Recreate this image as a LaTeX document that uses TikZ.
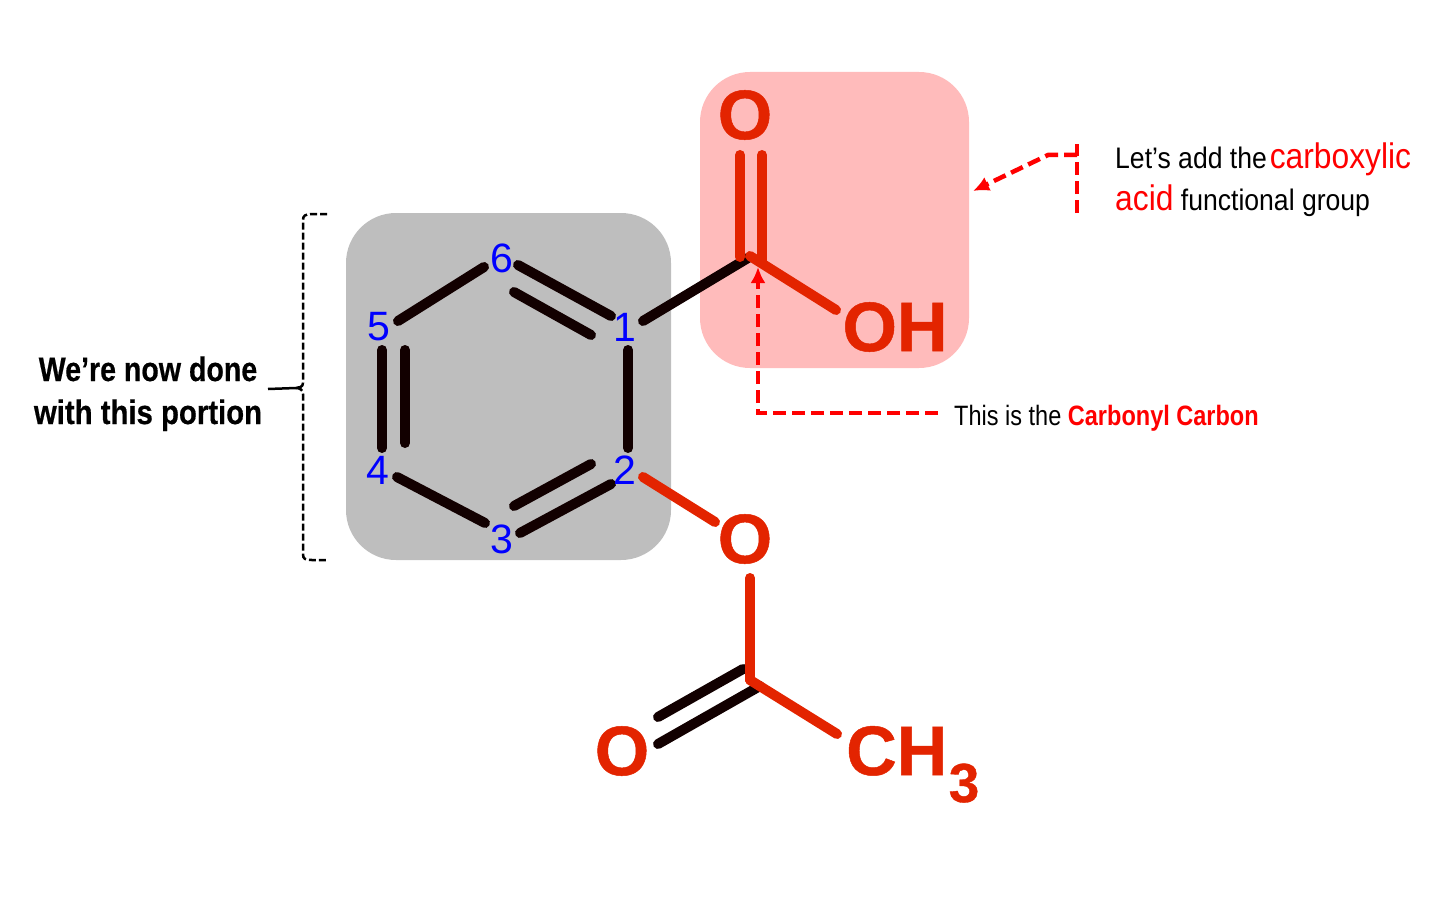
\documentclass[tikz,border=0pt]{standalone}
\usepackage{fontspec}
\setmainfont{Liberation Sans}[BoldFeatures={FakeBold=0.7}]
\newfontfamily\addfont[FakeStretch=0.895]{Liberation Sans}
\newfontfamily\thisfont[FakeStretch=0.84]{Liberation Sans}
\newfontfamily\sidefont[FakeStretch=0.84,BoldFeatures={FakeStretch=0.84,FakeBold=0.5}]{Liberation Sans}
\usetikzlibrary{arrows.meta}
\definecolor{atomred}{HTML}{E32400}
\definecolor{bondblack}{HTML}{120000}
\definecolor{boxgray}{HTML}{BEBEBE}
\definecolor{boxpink}{HTML}{FFBBBB}
\definecolor{notered}{HTML}{FF0000}
\tikzset{
  panel/.style={rounded corners=50pt},
  blackbond/.style={draw=bondblack,line width=10pt,line cap=round},
  redbond/.style={draw=atomred,line width=10pt,line cap=round},
  atomlabel/.style={inner sep=0pt,text=atomred,font=\fontsize{70}{70}\selectfont\bfseries},
  numlabel/.style={inner sep=0pt,text=blue,font=\fontsize{41}{41}\selectfont},
  addlabel/.style={inner sep=0pt,anchor=base west,font=\addfont\fontsize{29.7}{30}\selectfont},
  thislabel/.style={inner sep=0pt,anchor=base west,font=\thisfont\fontsize{28}{28}\selectfont},
  sidelabel/.style={inner sep=0pt,anchor=base,font=\sidefont\bfseries\fontsize{34}{34}\selectfont},
  leader/.style={draw=notered,line width=4.5pt,dash pattern=on 13pt off 6pt},
  leadertip/.style={-{Latex[length=16pt,width=15pt]}},
  bracket/.style={draw=black,line width=2.5pt,dash pattern=on 7pt off 3pt},
  bracketstem/.style={draw=black,line width=2.5pt}
}
\begin{document}
\begin{tikzpicture}[x=1pt,y=-1pt]
\useasboundingbox (0,0) rectangle (1431,912);
\fill[boxgray,panel] (346,213) rectangle (671,560);
\fill[boxpink,panel] (700,72) rectangle (969,368);

% bond end points
\coordinate (c6a) at (398,321); \coordinate (c6b) at (484,267);
\coordinate (d6a) at (518,265); \coordinate (d6b) at (611,316);
\coordinate (d6c) at (514,292); \coordinate (d6d) at (591,335);
\coordinate (c1a) at (643,321); \coordinate (c1b) at (748,258);
\coordinate (c2a) at (628,350); \coordinate (c2b) at (628,448);
\coordinate (d3a) at (611,484); \coordinate (d3b) at (520,533);
\coordinate (d3c) at (591,464); \coordinate (d3d) at (514,506);
\coordinate (c4a) at (485,523); \coordinate (c4b) at (397,477);
\coordinate (d5a) at (382,448); \coordinate (d5b) at (382,350);
\coordinate (d5c) at (405,443); \coordinate (d5d) at (405,350);
\coordinate (e1a) at (740,155); \coordinate (e1b) at (740,257);
\coordinate (e2a) at (762,155); \coordinate (e2b) at (762,262);
\coordinate (e3a) at (750,256); \coordinate (e3b) at (836,310);
\coordinate (f1a) at (643,477); \coordinate (f1b) at (715,522);
\coordinate (f2a) at (750,578); \coordinate (f2b) at (750,680);
\coordinate (f3a) at (743,669); \coordinate (f3b) at (658,717);
\coordinate (f4a) at (760,686); \coordinate (f4b) at (658,744);
\coordinate (f5a) at (750,680); \coordinate (f5b) at (837,734);

\foreach \p/\q in {c6a/c6b,d6a/d6b,d6c/d6d,c1a/c1b,c2a/c2b,d3a/d3b,d3c/d3d,c4a/c4b,d5a/d5b,d5c/d5d,f3a/f3b,f4a/f4b}
  \draw[blackbond] (\p) -- (\q);
\foreach \p/\q in {e1a/e1b,e2a/e2b,e3a/e3b,f1a/f1b,f2a/f2b,f5a/f5b}
  \draw[redbond] (\p) -- (\q);

% atoms
\node[atomlabel] (otop) at (745,115) {O};
\node[atomlabel] (oh) at (895,327) {OH};
\node[atomlabel] (oester) at (745,539) {O};
\node[atomlabel] (oleft) at (622,751) {O};
\node[atomlabel,anchor=base west] (ch) at (846,775) {CH};
\node[atomlabel,font=\fontsize{55}{55}\selectfont\bfseries,anchor=base] (sub) at (964,802) {3};

% ring numbers
\node[numlabel] (n1) at (625,327) {1};
\node[numlabel] (n2) at (625,470) {2};
\node[numlabel] (n3) at (502,539) {3};
\node[numlabel] (n4) at (378,470) {4};
\node[numlabel] (n5) at (379,327) {5};
\node[numlabel] (n6) at (502,258) {6};

% annotations
\node[addlabel] (add1) at (1115,168) {Let’s add the\hspace{-4.5pt} {\color{notered}\fontsize{35.5}{35.5}\selectfont carboxylic}};
\node[addlabel] (add2) at (1115,211) {{\color{notered}\fontsize{35.5}{35.5}\selectfont acid} functional group};
\node[thislabel] (carb) at (954,425) {This is the {\color{notered}\bfseries Carbonyl Carbon}};
\node[sidelabel] (done1) at (148,381) {We’re now done};
\node[sidelabel] (done2) at (148,424) {\scalebox{1.027}[1]{with this portion}};

% leaders
\coordinate (la) at (938,413); \coordinate (lb) at (758,413); \coordinate (lc) at (758,267);
\draw[leader,leadertip] (la) -- (lb) -- (lc);
\coordinate (ma) at (1077,213); \coordinate (mt) at (1077,144); \coordinate (mb) at (1077,155); \coordinate (mc) at (1048,155); \coordinate (md) at (973,191);
\draw[leader] (ma) -- (mt);
\draw[leader,leadertip] (mb) -- (mc) -- (md);

% bracket
\coordinate (ba) at (327,214); \coordinate (bb) at (303,220); \coordinate (bc) at (303,383);
\coordinate (bd) at (268,389); \coordinate (bs) at (296,388); \coordinate (be) at (303,394); \coordinate (bf) at (303,554); \coordinate (bg) at (327,560);
\draw[bracket] (ba) -- (312,214) .. controls (305,214) and (303,216) .. (bb) -- (bc);
\draw[bracketstem] (bd) -- (bs) .. controls (299,388) and (303,387) .. (bc);
\draw[bracket] (bs) .. controls (300,388) and (303,390) .. (be) -- (bf) .. controls (303,559) and (305,560) .. (312,560) -- (bg);
\end{tikzpicture}
\end{document}
